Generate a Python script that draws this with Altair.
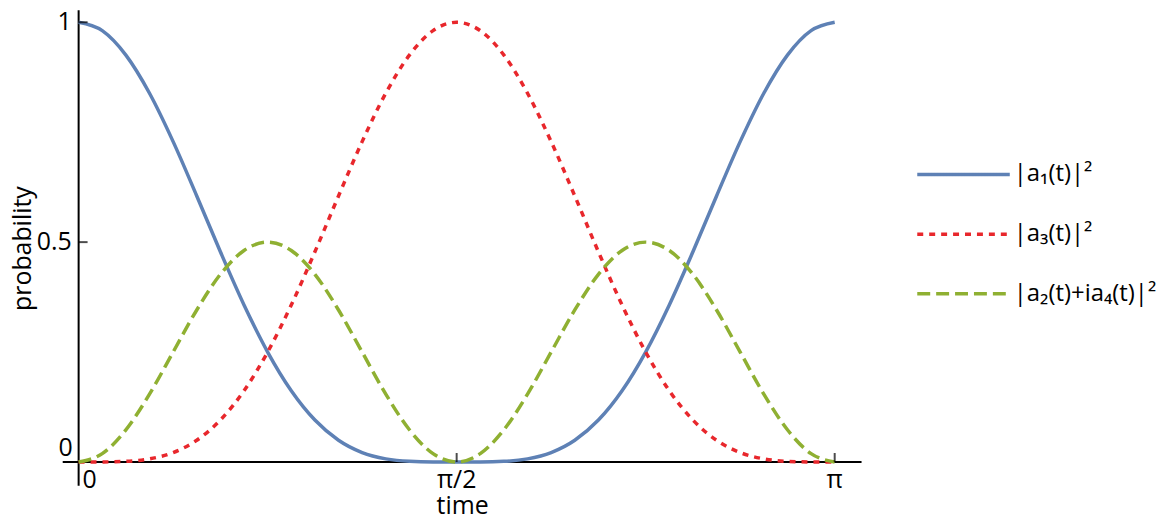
import altair as alt
import pandas as pd

# time in units of pi
t_pi = [0, 0.03125, 0.0625, 0.09375, 0.125, 0.15625, 0.1875, 0.21875, 0.25,
        0.28125, 0.3125, 0.34375, 0.375, 0.40625, 0.4375, 0.46875, 0.5,
        0.53125, 0.5625, 0.59375, 0.625, 0.65625, 0.6875, 0.71875, 0.75,
        0.78125, 0.8125, 0.84375, 0.875, 0.90625, 0.9375, 0.96875, 1]

p_a1 = [1, 0.9809, 0.9253, 0.8386, 0.7286, 0.6050, 0.4780, 0.3571, 0.25,
        0.1620, 0.0953, 0.0494, 0.0214, 0.0071, 0.0014, 0.0001, 0,
        0.0001, 0.0014, 0.0071, 0.0214, 0.0494, 0.0953, 0.1620, 0.25,
        0.3571, 0.4780, 0.6050, 0.7286, 0.8386, 0.9253, 0.9809, 1]

p_a3 = [0, 0.0001, 0.0014, 0.0071, 0.0214, 0.0494, 0.0953, 0.1620, 0.25,
        0.3571, 0.4780, 0.6050, 0.7286, 0.8386, 0.9253, 0.9809, 1,
        0.9809, 0.9253, 0.8386, 0.7286, 0.6050, 0.4780, 0.3571, 0.25,
        0.1620, 0.0953, 0.0494, 0.0214, 0.0071, 0.0014, 0.0001, 0]

p_a24 = [0, 0.0190, 0.0732, 0.1543, 0.25, 0.3457, 0.4268, 0.4810, 0.5,
         0.4810, 0.4268, 0.3457, 0.25, 0.1543, 0.0732, 0.0190, 0,
         0.0190, 0.0732, 0.1543, 0.25, 0.3457, 0.4268, 0.4810, 0.5,
         0.4810, 0.4268, 0.3457, 0.25, 0.1543, 0.0732, 0.0190, 0]

legend_labels = ["|a₁(t)|²", "|a₃(t)|²", "|a₂(t)+ia₄(t)|²"]
legend_rows = [0, 1, 2]
colors = ["#5E81B5", "#E8272C", "#8FB032"]
dashes = [[1, 0], [6, 6], [13, 6]]

x_tick_vals = [0.5, 1.0]
x_tick_labels = ["π/2", "π"]
y_tick_vals = [0.5, 1.0]
y_tick_labels = ["0.5", "1"]
origin_label = ["0"]

FONT = "Open Sans"
FS = 25
W, H = 803, 478

xs = alt.Scale(domain=[-0.02105, 1.03553], nice=False, zero=False)
ys = alt.Scale(domain=[-0.0543, 1.02715], nice=False, zero=False)

x_axis = alt.Axis(title="time", labels=False, ticks=False, domain=False, grid=False,
                  titleFontSize=FS, titleFont=FONT, titleFontWeight="normal",
                  titlePadding=8, titleColor="black")
y_axis = alt.Axis(title="probability", labels=False, ticks=False, domain=False, grid=False,
                  titleFontSize=FS, titleFont=FONT, titleFontWeight="normal",
                  titlePadding=27, titleColor="black")


def curve(vals, color, dash):
    df = pd.DataFrame({"t": t_pi, "p": vals})
    kw = dict(color=color, strokeWidth=3.5, interpolate="monotone")
    if dash is not None:
        kw["strokeDash"] = dash
    return alt.Chart(df).mark_line(**kw).encode(
        x=alt.X("t:Q", scale=xs, axis=x_axis),
        y=alt.Y("p:Q", scale=ys, axis=y_axis),
    )


origin_df = pd.DataFrame({"lab": origin_label})
xt = pd.DataFrame({"v": x_tick_vals, "lab": x_tick_labels})
yt = pd.DataFrame({"v": y_tick_vals, "lab": y_tick_labels})

x_line = alt.Chart(origin_df).mark_rule(color="black", strokeWidth=2).encode(
    y=alt.YDatum(0, scale=ys))
y_line = alt.Chart(origin_df).mark_rule(color="black", strokeWidth=2).encode(
    x=alt.XDatum(0, scale=xs))

x_ticks = alt.Chart(xt).mark_tick(orient="vertical", size=9, thickness=2,
                                  color="black", yOffset=-4.5).encode(
    x=alt.X("v:Q", scale=xs), y=alt.YDatum(0, scale=ys))
y_ticks = alt.Chart(yt).mark_tick(orient="horizontal", size=9, thickness=2,
                                  color="black", xOffset=4.5).encode(
    y=alt.Y("v:Q", scale=ys), x=alt.XDatum(0, scale=xs))

x_labels = alt.Chart(xt).mark_text(baseline="top", dy=6, fontSize=FS, font=FONT,
                                   color="black").encode(
    x=alt.X("v:Q", scale=xs), y=alt.YDatum(0, scale=ys), text="lab:N")
y_labels = alt.Chart(yt).mark_text(align="right", baseline="middle", dx=-7,
                                   fontSize=FS, font=FONT, color="black").encode(
    y=alt.Y("v:Q", scale=ys), x=alt.XDatum(0, scale=xs), text="lab:N")
x0_label = alt.Chart(origin_df).mark_text(align="left", baseline="top", dx=4, dy=6,
                                          fontSize=FS, font=FONT, color="black").encode(
    x=alt.XDatum(0, scale=xs), y=alt.YDatum(0, scale=ys), text="lab:N")
y0_label = alt.Chart(origin_df).mark_text(align="right", baseline="middle", dx=-6, dy=-14,
                                          fontSize=FS, font=FONT, color="black").encode(
    x=alt.XDatum(0, scale=xs), y=alt.YDatum(0, scale=ys), text="lab:N")

main = alt.layer(
    x_line, y_line,
    curve(p_a1, colors[0], None),
    curve(p_a3, colors[1], dashes[1]),
    curve(p_a24, colors[2], dashes[2]),
    x_ticks, y_ticks, x_labels, y_labels, x0_label, y0_label,
).properties(width=W, height=H)

leg_df = pd.DataFrame({"lab": legend_labels, "row": legend_rows})
lx = alt.Scale(domain=[0, 1], nice=False, zero=False)
ly = alt.Scale(domain=[-2.75, 5.2167], nice=False, zero=False, reverse=True)

leg_lines = alt.Chart(leg_df).mark_rule(strokeWidth=3.5).encode(
    x=alt.XDatum(0, scale=lx, axis=None),
    x2=alt.X2Datum(1),
    y=alt.Y("row:Q", scale=ly, axis=None),
    color=alt.Color("lab:N", scale=alt.Scale(domain=legend_labels, range=colors), legend=None),
    strokeDash=alt.StrokeDash("lab:N", scale=alt.Scale(domain=legend_labels, range=dashes), legend=None),
)
leg_text = alt.Chart(leg_df).mark_text(align="left", baseline="middle", dx=4,
                                       fontSize=24, font=FONT, color="black").encode(
    x=alt.XDatum(1, scale=lx, axis=None),
    y=alt.Y("row:Q", scale=ly, axis=None),
    text="lab:N",
)
legend = alt.layer(leg_lines, leg_text).properties(width=93, height=H)

chart = alt.hconcat(
    main, legend, spacing=53,
    padding={"left": 3, "top": 0, "right": 2, "bottom": 4},
).configure_view(stroke=None)

chart.save("out.html", embed_options={"renderer": "svg", "actions": False})
